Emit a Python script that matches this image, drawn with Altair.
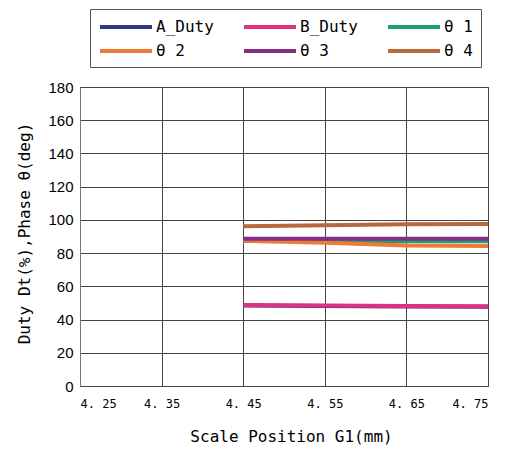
import altair as alt
import pandas as pd

x_vals = [4.45, 4.55, 4.65, 4.75]
series_names = ["A_Duty", "B_Duty", "θ 1", "θ 2", "θ 3", "θ 4"]
a_duty = [48.4, 48.1, 47.8, 47.7]
b_duty = [48.7, 48.4, 48.1, 48.0]
theta1 = [87.3, 87.2, 87.2, 87.2]
theta2 = [87.4, 86.2, 84.6, 84.3]
theta3 = [88.6, 88.6, 88.6, 88.6]
theta4 = [96.2, 96.8, 97.4, 97.6]
colors = ["#2e3a87", "#e0307f", "#1f9e7a", "#ee7a35", "#832f85", "#b8683c"]
x_ticks = [4.25, 4.35, 4.45, 4.55, 4.65, 4.75]
y_ticks = [0, 20, 40, 60, 80, 100, 120, 140, 160, 180]

rows = []
for name, vals in zip(series_names, [a_duty, b_duty, theta1, theta2, theta3, theta4]):
    for i, (xv, yv) in enumerate(zip(x_vals, vals)):
        rows.append({"series": name, "x": xv, "y": yv, "i": i})
df = pd.DataFrame(rows)

MONO = "DejaVu Sans Mono"
NARROW = "Liberation Sans Narrow, Liberation Sans"

chart = alt.Chart(df).mark_line(strokeWidth=4).encode(
    x=alt.X("x:Q",
            scale=alt.Scale(domain=[4.25, 4.75], nice=False, zero=False),
            axis=alt.Axis(values=x_ticks, title="Scale Position G1(mm)",
                          labelExpr="replace(format(datum.value, '.2f'), '.', '. ')",
                          ticks=False, labelPadding=12, labelFontSize=12, labelFont=MONO,
                          titleFontSize=16, titleFontWeight="normal", titleFont=MONO,
                          titleX=211, titleY=50, titleBaseline="middle",
                          gridColor="#444", gridOpacity=1, domain=False,
                          labelColor="#000", titleColor="#000")),
    y=alt.Y("y:Q",
            scale=alt.Scale(domain=[0, 180], nice=False),
            axis=alt.Axis(values=y_ticks, title="Duty Dt(%),Phase θ(deg)",
                          ticks=False, labelPadding=7, labelFontSize=15, labelFont=NARROW,
                          titleFontSize=16, titleFontWeight="normal", titleFont=MONO,
                          titleX=-56, titleY=146, titleAngle=-90,
                          titleBaseline="middle",
                          gridColor="#444", gridOpacity=1,
                          domainColor="#777", labelColor="#000", titleColor="#000")),
    color=alt.Color("series:N",
                    scale=alt.Scale(domain=series_names, range=colors),
                    legend=alt.Legend(title=None, orient="none", legendX=10, legendY=-78,
                                      direction="horizontal",
                                      columns=3, gridAlign="all",
                                      symbolType="M-1,0L5.5,0",
                                      symbolStrokeWidth=4, symbolSize=256,
                                      labelFontSize=16, labelFont=MONO, labelColor="#000",
                                      columnPadding=22, rowPadding=6,
                                      padding=8, strokeColor="#555", fillColor="white",
                                      labelOffset=38)),
    detail="series:N",
    order="i:Q",
).properties(
    width=408, height=299,
    padding={"left": 72, "top": 79, "right": 14, "bottom": 62},
    autosize=alt.AutoSizeParams(type="none"),
).configure_view(stroke="#444")

chart.save("out.html", embed_options={"renderer": "svg", "actions": False})
